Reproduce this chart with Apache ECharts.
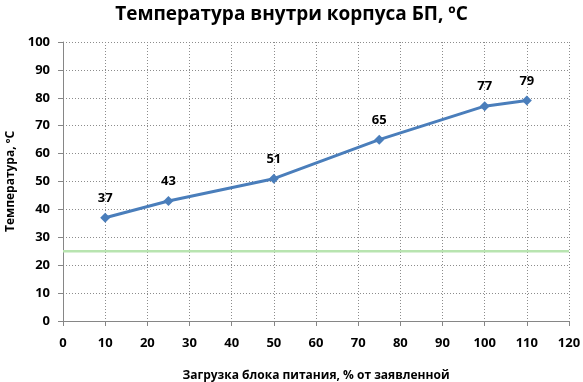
<!DOCTYPE html>
<html><head><meta charset="utf-8">
<script src="https://cdn.jsdelivr.net/npm/echarts@6/dist/echarts.min.js"></script>
<style>html,body{margin:0;padding:0;background:#fff}#c{width:583px;height:382px}</style>
</head><body><div id="c"></div>
<script>
var loadPct = [10, 25, 50, 75, 100, 110];
var tempC = [37, 43, 51, 65, 77, 79];
var refX = [0, 120];
var refY = [25, 25];
var titleText = 'Температура внутри корпуса БП, ºС';
var xName = 'Загрузка блока питания, % от заявленной';
var yName = 'Температура, ºС';

var font = '"Open Sans", "Liberation Sans", sans-serif';
var chart = echarts.init(document.getElementById('c'), null, {renderer: 'canvas'});
chart.setOption({
  animation: false,
  backgroundColor: '#fff',
  title: {text: titleText, left: 'center', top: 0,
    textStyle: {fontFamily: font, fontSize: 19, fontWeight: 'bold', color: '#000'}},
  grid: {left: 63, right: 14, top: 42, bottom: 61, containLabel: false, outerBoundsMode: 'none'},
  xAxis: {type: 'value', min: 0, max: 120, interval: 10,
    name: xName, nameLocation: 'middle', nameGap: 49,
    nameTextStyle: {fontFamily: font, fontSize: 12, fontWeight: 'bold', color: '#000'},
    axisLine: {show: true, lineStyle: {color: '#868686', width: 1}},
    axisTick: {show: true, length: 5, lineStyle: {color: '#868686'}},
    axisLabel: {margin: 16, fontFamily: font, fontSize: 13, fontWeight: 'bold', color: '#000'},
    splitLine: {show: true, lineStyle: {color: '#8c8c8c', type: [1, 2], width: 1}}},
  yAxis: {type: 'value', min: 0, max: 100, interval: 10,
    name: yName, nameLocation: 'middle', nameGap: 44, nameRotate: 90,
    nameTextStyle: {fontFamily: font, fontSize: 12, fontWeight: 'bold', color: '#000'},
    axisLine: {show: true, lineStyle: {color: '#868686', width: 1}},
    axisTick: {show: true, length: 5, lineStyle: {color: '#868686'}},
    axisLabel: {margin: 13, fontFamily: font, fontSize: 13, fontWeight: 'bold', color: '#000'},
    splitLine: {show: true, lineStyle: {color: '#8c8c8c', type: [1, 2], width: 1}}},
  series: [
    {type: 'line', data: refX.map(function(x, i){return [x, refY[i]];}),
     symbol: 'none', silent: true,
     lineStyle: {color: '#b8e4b0', width: 2.5}},
    {type: 'line', data: loadPct.map(function(x, i){return [x, tempC[i]];}),
     symbol: 'diamond', symbolSize: 10,
     itemStyle: {color: '#4a7ebb'},
     lineStyle: {color: '#4a7ebb', width: 3},
     label: {show: true, position: 'top', distance: 8,
       fontFamily: font, fontSize: 13, fontWeight: 'bold', color: '#000'}}
  ]
});
</script></body></html>
